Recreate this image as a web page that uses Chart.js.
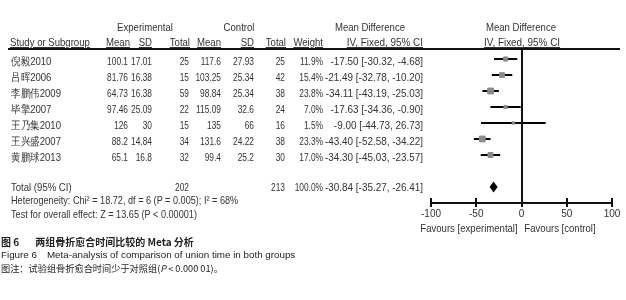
<!DOCTYPE html>
<html>
<head>
<meta charset="utf-8">
<script src="https://cdn.jsdelivr.net/npm/chart.js@4.4.1/dist/chart.umd.min.js"></script>
<style>
  html, body { margin: 0; padding: 0; background: #fff; }
  #wrap { position: relative; width: 626px; height: 300px; overflow: hidden; }
  #forest { position: absolute; left: 0; top: 0; }
  .t {
    position: absolute;
    font-family: "Liberation Sans", Arial, sans-serif;
    font-size: 11px;
    line-height: 12px;
    color: #333;
    white-space: nowrap;
    transform-origin: left center;
    transform: scaleX(0.87);
  }
  .r { text-align: right; transform-origin: right center; }
  .c { text-align: center; transform-origin: center center; }
  .u { text-decoration: underline; text-underline-offset: 1px; }
  .num { transform: scaleX(0.76); }
  .ci { transform: scaleX(0.9); }
  .note { transform: scaleX(0.83); }
  .cap { position: absolute; left: 1px; white-space: nowrap; color: #222; line-height: 12px; }
  .zh { font-family: "Noto Sans CJK SC", sans-serif; }
  .en { font-family: "Liberation Sans", Arial, sans-serif; font-size: 9.8px; }
</style>
</head>
<body>
<div id="wrap">
  <canvas id="forest" width="626" height="300"></canvas>
</div>
<script>
// --- DATA ---
const studies = ["倪毅2010", "吕晖2006", "李鹏伟2009", "毕擎2007", "王乃集2010", "王兴盛2007", "黄鹏球2013"];
const expMean = [100.1, 81.76, 64.73, 97.46, 126, 88.2, 65.1];
const expSD = [17.01, 16.38, 16.38, 25.09, 30, 14.84, 16.8];
const expN = [25, 15, 59, 22, 15, 34, 32];
const ctlMean = [117.6, 103.25, 98.84, 115.09, 135, 131.6, 99.4];
const ctlSD = [27.93, 25.34, 25.34, 32.6, 66, 24.22, 25.2];
const ctlN = [25, 42, 38, 24, 16, 38, 30];
const weights = [11.9, 15.4, 23.8, 7.0, 1.5, 23.3, 17.0];
const meanDiff = [-17.50, -21.49, -34.11, -17.63, -9.00, -43.40, -34.30];
const ciLow = [-30.32, -32.78, -43.19, -34.36, -44.73, -52.58, -45.03];
const ciHigh = [-4.68, -10.20, -25.03, -0.90, 26.73, -34.22, -23.57];
const totalN = [202, 213];
const totalCI = [-35.27, -30.84, -26.41]; // low, estimate, high
const xTicks = [-100, -50, 0, 50, 100];

const TOTAL_ROW = 9; // two blank rows after the studies

// --- TABLE TEXT ---
const wrap = document.getElementById("wrap");
function addText(txt, x, y, cls) {
  const d = document.createElement("div");
  cls = cls || "";
  d.className = "t " + cls;
  d.textContent = txt;
  d.style.top = (y - 6) + "px";
  if (cls.split(" ").includes("r")) {
    d.style.left = (x - 200) + "px";
    d.style.width = "200px";
  } else if (cls.split(" ").includes("c")) {
    d.style.left = (x - 100) + "px";
    d.style.width = "200px";
  } else {
    d.style.left = x + "px";
  }
  wrap.appendChild(d);
  return d;
}
const rowY = (i) => 45 + 16 * i; // text rows sit just under the marks

const fmtCI = (m, lo, hi) => `${m.toFixed(2)} [${lo.toFixed(2)}, ${hi.toFixed(2)}]`;

// headers
addText("Experimental", 145, 27, "c");
addText("Control", 239, 27, "c");
addText("Mean Difference", 370, 27, "c");
addText("Mean Difference", 521, 27, "c");
addText("Study or Subgroup", 10, 42, "u");
addText("Mean", 130, 42, "r u");
addText("SD", 152, 42, "r u");
addText("Total", 190, 42, "r u");
addText("Mean", 221, 42, "r u");
addText("SD", 254, 42, "r u");
addText("Total", 286, 42, "r u");
addText("Weight", 323, 42, "r u");
addText("IV, Fixed, 95% CI", 423, 42, "r u ci");
addText("IV, Fixed, 95% CI", 522, 42, "c u ci");

studies.forEach((s, i) => {
  const y = rowY(i + 1);
  addText(s, 11, y);
  addText(String(expMean[i]), 128, y, "r num");
  addText(String(expSD[i]), 152, y, "r num");
  addText(String(expN[i]), 189, y, "r num");
  addText(String(ctlMean[i]), 221, y, "r num");
  addText(String(ctlSD[i]), 254, y, "r num");
  addText(String(ctlN[i]), 285, y, "r num");
  addText(weights[i].toFixed(1) + "%", 323, y, "r num");
  addText(fmtCI(meanDiff[i], ciLow[i], ciHigh[i]), 423, y, "r ci");
});

const ty = 187;
addText("Total (95% CI)", 11, ty);
addText(String(totalN[0]), 189, ty, "r num");
addText(String(totalN[1]), 285, ty, "r num");
addText("100.0%", 323, ty, "r num");
addText(fmtCI(totalCI[1], totalCI[0], totalCI[2]), 423, ty, "r ci");
addText("Heterogeneity: Chi² = 18.72, df = 6 (P = 0.005); I² = 68%", 11, ty + 13, "note");
addText("Test for overall effect: Z = 13.65 (P < 0.00001)", 11, ty + 27, "note");
addText("Favours [experimental]", 469, 228, "c");
addText("Favours [control]", 560, 228, "c");

// header rule
const rule = document.createElement("div");
rule.style.cssText = "position:absolute;left:8px;top:48px;width:612px;height:2px;background:#111;";
wrap.appendChild(rule);

// captions
const caps = [
  ["zh", "<b>图 6<span style='display:inline-block;width:16px'></span>两组骨折愈合时间比较的 Meta 分析</b>", 236, 10],
  ["en", "Figure 6<span style='display:inline-block;width:10px'></span>Meta-analysis of comparison of union time in both groups", 249, 9.8],
  ["zh", "图注：试验组骨折愈合时间少于对照组(<i>P</i> &lt; 0.000 01)。", 262, 9.2],
];
caps.forEach(([cls, html, y, size]) => {
  const d = document.createElement("div");
  d.className = "cap " + cls;
  d.innerHTML = html;
  d.style.top = y + "px";
  d.style.fontSize = size + "px";
  wrap.appendChild(d);
});

// --- FOREST PLOT (Chart.js) ---
const forestExtras = {
  id: "forestExtras",
  afterDatasetsDraw(chart) {
    const { ctx, chartArea, scales } = chart;
    const x = scales.x, y = scales.y;
    ctx.save();
    // line of no effect
    ctx.strokeStyle = "#111";
    ctx.lineWidth = 2;
    const x0 = Math.round(x.getPixelForValue(0));
    ctx.beginPath();
    ctx.moveTo(x0, chartArea.top);
    ctx.lineTo(x0, chartArea.bottom);
    ctx.stroke();
    // tick marks crossing the axis
    xTicks.forEach((v) => {
      const px = Math.round(x.getPixelForValue(v));
      ctx.beginPath();
      ctx.moveTo(px, chartArea.bottom - 5);
      ctx.lineTo(px, chartArea.bottom);
      ctx.stroke();
    });
    // pooled estimate diamond
    const cy = y.getPixelForValue(TOTAL_ROW);
    ctx.fillStyle = "#000";
    ctx.beginPath();
    ctx.moveTo(x.getPixelForValue(totalCI[0]), cy);
    ctx.lineTo(x.getPixelForValue(totalCI[1]), cy - 5.5);
    ctx.lineTo(x.getPixelForValue(totalCI[2]), cy);
    ctx.lineTo(x.getPixelForValue(totalCI[1]), cy + 5.5);
    ctx.closePath();
    ctx.fill();
    ctx.restore();
  },
};

const ciDatasets = studies.map((s, i) => ({
  type: "line",
  label: s,
  data: [
    { x: ciLow[i], y: i + 1 },
    { x: ciHigh[i], y: i + 1 },
  ],
  borderColor: "#000",
  borderWidth: 2,
  pointRadius: 0,
  order: 2,
}));

const squares = {
  type: "scatter",
  label: "Mean difference",
  data: meanDiff.map((m, i) => ({ x: m, y: i + 1 })),
  pointStyle: "rect",
  pointRadius: weights.map((w) => Math.max(2.4, Math.sqrt(w) * 1.2) / Math.SQRT2),
  backgroundColor: "#8a8a8a",
  borderColor: "#8a8a8a",
  borderWidth: 1,
  order: 1,
};

new Chart(document.getElementById("forest"), {
  type: "scatter",
  data: { datasets: [...ciDatasets, squares] },
  options: {
    responsive: false,
    animation: false,
    events: [],
    layout: { padding: { left: 431, right: 14, top: 49, bottom: 77 } },
    plugins: { legend: { display: false }, tooltip: { enabled: false } },
    scales: {
      x: {
        type: "linear",
        min: -100,
        max: 100,
        afterBuildTicks: (scale) => {
          scale.ticks = xTicks.map((v) => ({ value: v }));
        },
        afterFit: (scale) => {
          scale.height = 20;
        },
        grid: { drawOnChartArea: false, color: "#111", lineWidth: 2, tickLength: 4 },
        border: { display: true, color: "#111", width: 2 },
        ticks: {
          color: "#333",
          padding: 1,
          maxRotation: 0,
          font: { family: "'Liberation Sans', Arial, sans-serif", size: 10 },
        },
      },
      y: {
        type: "linear",
        reverse: true,
        min: 0.375,
        max: 10,
        display: false,
      },
    },
  },
  plugins: [forestExtras],
});
</script>
</body>
</html>
